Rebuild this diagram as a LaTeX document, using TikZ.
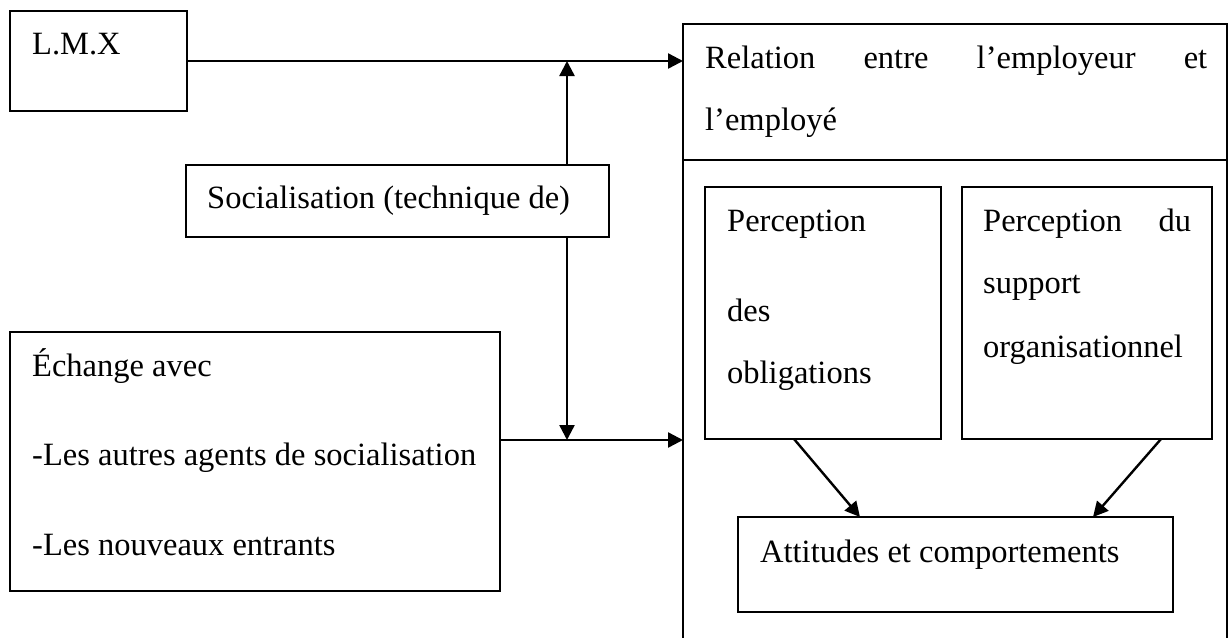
\documentclass[tikz,border=0pt]{standalone}
\usepackage{fontspec}
\setmainfont{Liberation Serif}
\usetikzlibrary{arrows.meta}
\begin{document}
\begin{tikzpicture}[x=1pt,y=-1pt,
  box/.style={draw, line width=2.2pt, inner sep=0pt, outer sep=0pt, anchor=north west},
  lbl/.style={anchor=base west, inner sep=0pt, font=\fontsize{32.5}{39}\selectfont},
  arr/.style={line width=2.4pt, -{Triangle[length=15pt,width=15pt]}},
  rule/.style={line width=2.2pt}
]
\useasboundingbox (0,0) rectangle (1228,637);
% boxes
\node[box, minimum width=177pt, minimum height=100pt] (lmx) at (10,11) {};
\node[box, minimum width=544pt, minimum height=660pt] (rel) at (683,24) {};
\draw[rule] (rel.north west |- 0,160) -- (rel.north east |- 0,160);
\node[box, minimum width=423pt, minimum height=72pt] (soc) at (186,165) {};
\node[box, minimum width=490pt, minimum height=259pt] (ech) at (10,332) {};
\node[box, minimum width=236pt, minimum height=252pt] (pdes) at (705,187) {};
\node[box, minimum width=250pt, minimum height=252pt] (psup) at (962,187) {};
\node[box, minimum width=435pt, minimum height=95pt] (att) at (738,517) {};
% texts
\node[lbl] (t1) at (32,54) {L.M.X};
\node[lbl] (t2) at (705,68) {\hbox to 502pt{Relation\hfill entre\hfill l’employeur\hfill et}};
\node[lbl] (t3) at (705,130) {l’employé};
\node[lbl] (t4) at (207,208) {Socialisation (technique de)};
\node[lbl] (t5) at (32,376) {Échange avec};
\node[lbl] (t6) at (32,465) {-Les autres agents de socialisation};
\node[lbl] (t7) at (32,555) {-Les nouveaux entrants};
\node[lbl] (t8) at (727,231) {Perception};
\node[lbl] (t9) at (727,321) {des};
\node[lbl] (t10) at (727,383) {obligations};
\node[lbl] (t11) at (983,231) {\hbox to 208pt{Perception\hfill du}};
\node[lbl] (t12) at (983,293) {support};
\node[lbl] (t13) at (983,357) {organisationnel};
\node[lbl] (t14) at (760,562) {Attitudes et comportements};
% connectors
\coordinate (j1) at (567,61);
\coordinate (j2) at (567,440);
\draw[arr] (lmx.east) -- (lmx.east -| rel.west);
\draw[arr] (j1 |- soc.north) -- (j1);
\draw[arr] (j2 |- soc.south) -- (j2);
\draw[arr] (ech.east |- j2) -- (j2 -| rel.west);
\draw[arr] ([xshift=89pt]pdes.south west) -- ([xshift=122pt]att.north west);
\draw[arr] ([xshift=199pt]psup.south west) -- ([xshift=355pt]att.north west);
\end{tikzpicture}
\end{document}
